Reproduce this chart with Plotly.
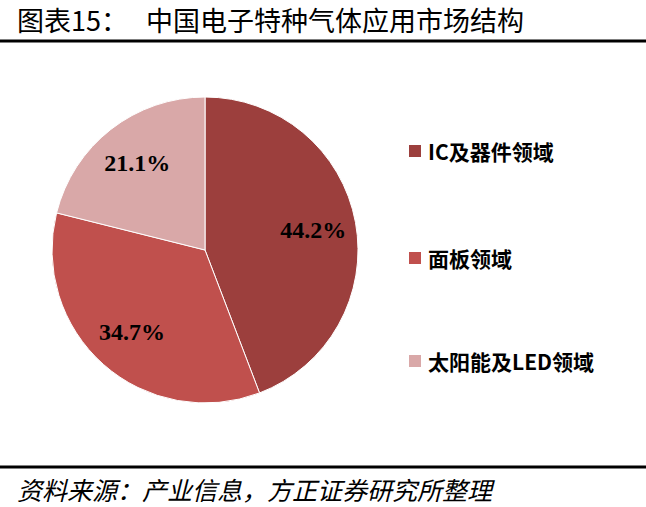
import plotly.graph_objects as go

# 数据
labels = ["IC及器件领域", "面板领域", "太阳能及LED领域"]
shares = [44.2, 34.7, 21.1]
colors = ["#9C3F3D", "#C0504D", "#D9A8A8"]

title_text = "图表15：   中国电子特种气体应用市场结构"
source_text = "资料来源：产业信息，方正证券研究所整理"

cjk = "Noto Sans CJK SC"
pie_domain = dict(x=[52 / 646, 358 / 646], y=[1 - 403 / 507, 1 - 97 / 507])

fig = go.Figure()

# 实心饼图（无文字）
fig.add_trace(go.Pie(
    labels=labels, values=shares, sort=False, direction="clockwise", rotation=0,
    marker=dict(colors=colors, line=dict(color="white", width=1)),
    textinfo="none", domain=pie_domain, showlegend=False,
    hoverinfo="label+percent"
))

# 透明环形，只用来把百分比放得更靠外
fig.add_trace(go.Pie(
    labels=labels, values=shares, sort=False, direction="clockwise", rotation=0,
    hole=0.44,
    marker=dict(colors=["rgba(0,0,0,0)"] * len(labels), line=dict(width=0)),
    texttemplate="%{percent:.1%}", textposition="inside",
    insidetextorientation="horizontal",
    textfont=dict(family="Liberation Serif", size=24, color="black", weight="bold"),
    domain=pie_domain, showlegend=False, hoverinfo="skip"
))

# 自绘图例（间距较大）
legend_y = [1 - 151 / 507, 1 - 258 / 507, 1 - 361 / 507]
shapes = []
annotations = []
for name, col, ly in zip(labels, colors, legend_y):
    shapes.append(dict(
        type="rect", xref="paper", yref="paper",
        x0=409 / 646, x1=421 / 646, y0=ly - 6 / 507, y1=ly + 6 / 507,
        fillcolor=col, line=dict(width=0)
    ))
    annotations.append(dict(
        text=name, xref="paper", yref="paper", x=426 / 646, y=ly,
        xanchor="left", yanchor="middle", showarrow=False,
        font=dict(family=cjk, size=21, color="black", weight="bold")
    ))

# 标题和来源
annotations.append(dict(
    text=title_text, xref="paper", yref="paper", x=15 / 646, y=1 - 20 / 507,
    xanchor="left", yanchor="middle", showarrow=False,
    font=dict(family=cjk, size=27, color="black")
))
annotations.append(dict(
    text="<i>" + source_text + "</i>", xref="paper", yref="paper",
    x=15 / 646, y=1 - 489 / 507, xanchor="left", yanchor="middle", showarrow=False,
    font=dict(family=cjk, size=25, color="black")
))

# 上下两条粗线
for yy in [41, 467]:
    shapes.append(dict(
        type="line", xref="paper", yref="paper", x0=0, x1=1,
        y0=1 - yy / 507, y1=1 - yy / 507, line=dict(color="black", width=3)
    ))

fig.update_layout(
    width=646, height=507, margin=dict(l=0, r=0, t=0, b=0),
    paper_bgcolor="white", plot_bgcolor="white",
    shapes=shapes, annotations=annotations
)

fig.write_html("out.html", config={"displayModeBar": False},
               post_script="document.body.style.margin='0';")
